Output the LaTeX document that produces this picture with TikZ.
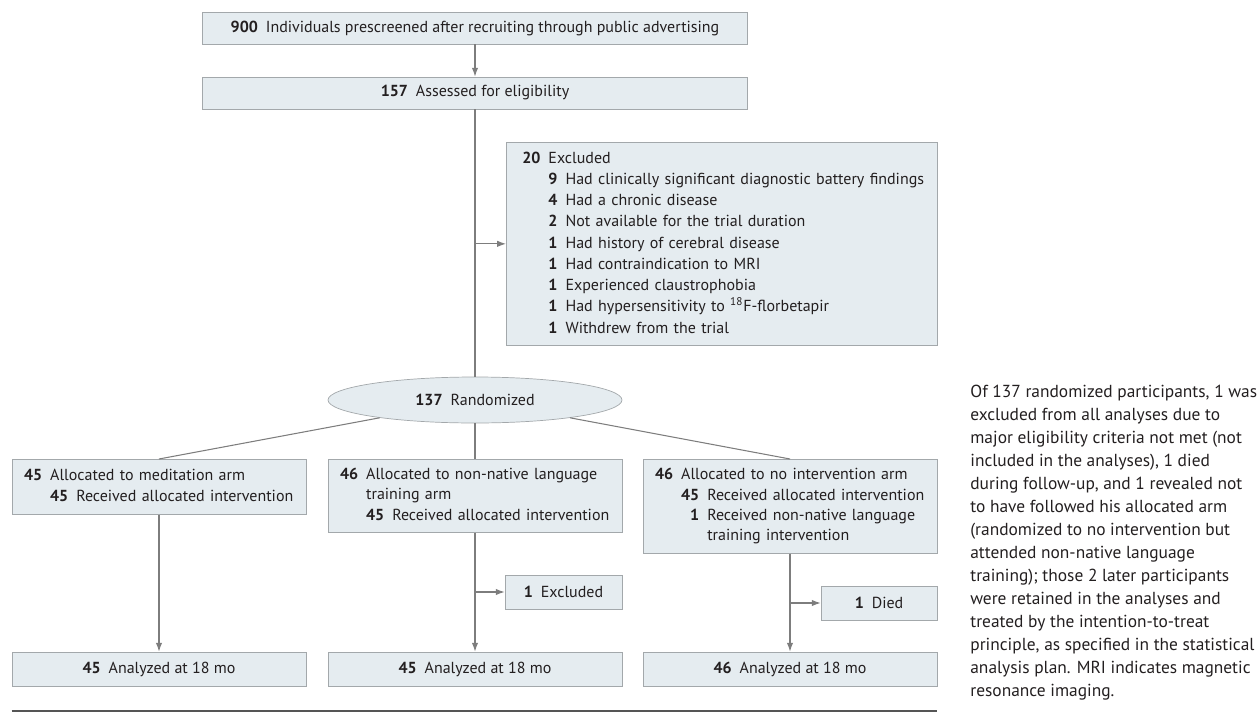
\documentclass[tikz,border=0pt]{standalone}
\usepackage{fontspec}
\setmainfont{PT Sans}
\usetikzlibrary{arrows.meta,shapes.geometric,positioning}
\definecolor{boxfill}{RGB}{229,236,240}
\definecolor{boxline}{RGB}{163,168,171}
\definecolor{linkgray}{RGB}{125,125,125}
\definecolor{inkgray}{RGB}{35,31,32}
\definecolor{rulegray}{RGB}{85,85,85}

\begin{document}
\begin{tikzpicture}[
  x=0.02cm, y=-0.02cm,
  every node/.style={text=inkgray},
  block/.style={rectangle, draw=boxline, fill=boxfill, minimum height=0.68cm, inner sep=0pt, align=center, font=\fontsize{9.1}{11.6}\selectfont},
  armblock/.style={block, anchor=north, inner xsep=0.24cm, text width=5.4cm, align=left},
  exblock/.style={block, anchor=north west, minimum height=4.06cm, inner xsep=0.32cm, text width=7.98cm, align=left, font=\fontsize{9.1}{12.1}\selectfont},
  oval/.style={ellipse, draw=boxline, fill=boxfill, minimum width=5.88cm, minimum height=0.92cm, inner sep=0pt, font=\fontsize{9.1}{11.6}\selectfont},
  note/.style={anchor=north west, inner sep=0pt, align=left, font=\fontsize{9.9}{13.1}\selectfont},
  link/.style={draw=linkgray, line width=0.6pt},
  >={Latex[length=5pt,width=3.6pt]}
]
\useasboundingbox (0,0) rectangle (1260,713);

% Screening
\node[block, minimum width=10.9cm, minimum height=0.64cm] (screen) at (475,28) {\textbf{900}\enspace Individuals prescreened after recruiting through public advertising};
\node[block, minimum width=10.9cm, minimum height=0.64cm] (assess) at (475,93) {\textbf{157}\enspace Assessed for eligibility};

% Exclusions
\node[exblock] (excl) at (506,142) {\begin{tabular}{@{}r@{\enspace}r@{\enspace}l@{}}
\textbf{20} & \multicolumn{2}{@{}l@{}}{Excluded}\\
 & \textbf{9} & Had clinically significant diagnostic battery findings\\
 & \textbf{4} & Had a chronic disease\\
 & \textbf{2} & Not available for the trial duration\\
 & \textbf{1} & Had history of cerebral disease\\
 & \textbf{1} & Had contraindication to MRI\\
 & \textbf{1} & Experienced claustrophobia\\
 & \textbf{1} & Had hypersensitivity to \textsuperscript{18}F-florbetapir\\
 & \textbf{1} & Withdrew from the trial
\end{tabular}};

% Randomization
\node[oval] (rand) at (475,400) {\textbf{137}\enspace Randomized};

% Arms
\node[armblock, minimum height=1.1cm] (med) at (159,459) {\begin{tabular}{@{}r@{\enspace}r@{\enspace}l@{}}
\textbf{45} & \multicolumn{2}{@{}l@{}}{Allocated to meditation arm}\\
 & \textbf{45} & Received allocated intervention
\end{tabular}};
\node[armblock, minimum height=1.46cm] (lang) at (475,459) {\begin{tabular}{@{}r@{\enspace}r@{\enspace}l@{}}
\textbf{46} & \multicolumn{2}{@{}l@{}}{Allocated to non-native language}\\
 & \multicolumn{2}{@{}l@{}}{training arm}\\
 & \textbf{45} & Received allocated intervention
\end{tabular}};
\node[armblock, minimum height=1.88cm] (noint) at (790,459) {\begin{tabular}{@{}r@{\enspace}r@{\enspace}l@{}}
\textbf{46} & \multicolumn{2}{@{}l@{}}{Allocated to no intervention arm}\\
 & \textbf{45} & Received allocated intervention\\
 & \textbf{1} & Received non-native language\\
 & & training intervention
\end{tabular}};

% Follow-up
\node[block, minimum width=2.34cm] (langout) at (563.5,592) {\textbf{1}\enspace Excluded};
\node[block, minimum width=2.32cm] (died) at (879,603) {\textbf{1}\enspace Died};

% Analysis
\node[block, minimum width=5.88cm] (ana_med) at (159,669) {\textbf{45}\enspace Analyzed at 18 mo};
\node[block, minimum width=5.88cm] (ana_lang) at (475,669) {\textbf{45}\enspace Analyzed at 18 mo};
\node[block, minimum width=5.88cm] (ana_noint) at (790,669) {\textbf{46}\enspace Analyzed at 18 mo};

% Note
\node[note] (note) at (970,385) {Of 137 randomized participants, 1 was\\
excluded from all analyses due to\\
major eligibility criteria not met (not\\
included in the analyses), 1 died\\
during follow-up, and 1 revealed not\\
to have followed his allocated arm\\
(randomized to no intervention but\\
attended non-native language\\
training); those 2 later participants\\
were retained in the analyses and\\
treated by the intention-to-treat\\
principle, as specified in the statistical\\
analysis plan. MRI indicates magnetic\\
resonance imaging.};

% Connections
\draw[link,->] (screen) -- (assess);
\draw[link] (assess) -- (rand);
\draw[link,->] (assess.south |- excl.west) -- (excl.west);
\draw[link] (rand) -- (med.north);
\draw[link] (rand) -- (lang);
\draw[link] (rand) -- (noint.north);
\draw[link,->] (med) -- (ana_med);
\draw[link,->] (lang) -- (ana_lang);
\draw[link,->] (lang.south |- langout.west) -- (langout.west);
\draw[link,->] (noint) -- (ana_noint);
\draw[link,->] (noint.south |- died.west) -- (died.west);
\draw[rulegray, line width=1.2pt] (ana_med.west |- 0,711) -- (ana_noint.east |- 0,711);
\end{tikzpicture}
\end{document}
